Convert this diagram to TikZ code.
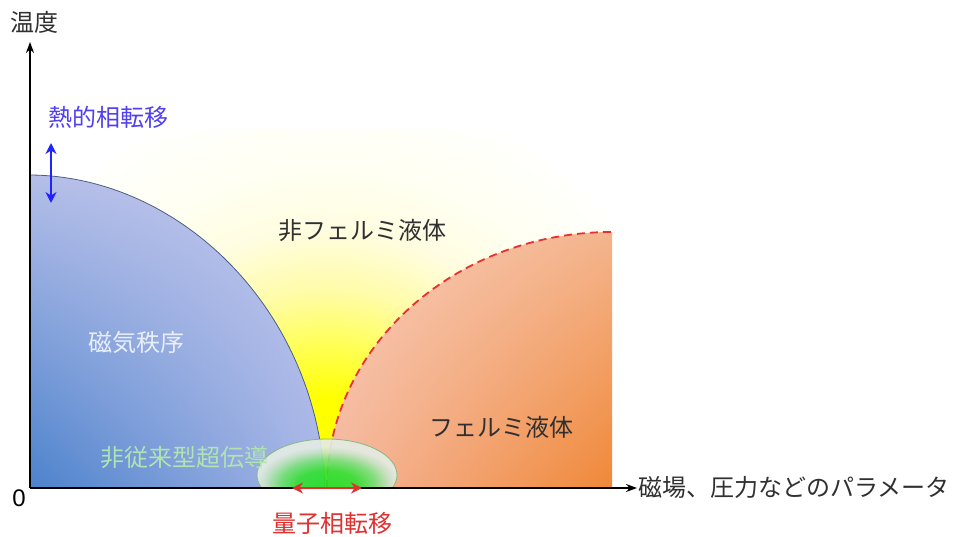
\documentclass[tikz,border=0pt]{standalone}
\usepackage{fontspec}
\newfontfamily\jp{Noto Sans CJK JP}
\newfontfamily\latinsans{Liberation Sans}
\usetikzlibrary{arrows.meta,shadings}
\definecolor{yelA}{HTML}{FFFF00}
\definecolor{yelB}{HTML}{FFFF60}
\definecolor{yelC}{HTML}{FFFCA8}
\definecolor{yelD}{HTML}{FFFDE0}
\definecolor{yelE}{HTML}{FFFFF2}
\definecolor{yelF}{HTML}{FFFFFD}
\definecolor{grnA}{HTML}{22E022}
\definecolor{grnB}{HTML}{34E034}
\definecolor{grnC}{HTML}{78E078}
\definecolor{grnD}{HTML}{C8E4C8}
\definecolor{grnE}{HTML}{E4ECE4}
\definecolor{txtgray}{HTML}{303030}
\definecolor{blueline}{HTML}{4A6088}
\definecolor{arrowblue}{HTML}{2222FF}
\definecolor{lblblue}{HTML}{5040F0}
\definecolor{lblred}{HTML}{E03030}
\definecolor{dashred}{HTML}{E83030}
\definecolor{sclabel}{HTML}{B0E4B0}
\definecolor{maglabel}{HTML}{E8EEFA}
\definecolor{ellline}{HTML}{84B884}
\definecolor{magUL}{HTML}{B4BEE8}
\definecolor{magUR}{HTML}{C6C8EE}
\definecolor{magLL}{HTML}{4C82CC}
\definecolor{magLR}{HTML}{A8B6E6}
\definecolor{flUL}{HTML}{F8CEBE}
\definecolor{flUR}{HTML}{F4B48C}
\definecolor{flLL}{HTML}{F5B89E}
\definecolor{flLR}{HTML}{F08838}
\pgfdeclareradialshading{yelglow}{\pgfpoint{0bp}{0bp}}{color(0bp)=(yelA); color(4.7bp)=(yelA); color(8.7bp)=(yelB); color(11.8bp)=(yelC); color(15.8bp)=(yelD); color(19.7bp)=(yelE); color(25bp)=(yelF); color(50bp)=(yelF)}
\pgfdeclareradialshading{grnglow}{\pgfpoint{0bp}{-10bp}}{color(0bp)=(grnA); color(11bp)=(grnB); color(17bp)=(grnC); color(22bp)=(grnD); color(25bp)=(grnE); color(50bp)=(grnE)}
\begin{document}
\begin{tikzpicture}[x=1pt,y=-1pt,
  lbl/.style={font=\jp\fontsize{24}{28}\selectfont, text=txtgray, inner sep=0pt},
  axisline/.style={line width=1.8pt, black, -{Stealth[length=11pt,width=8pt]}},
  dblarrow/.style={line width=2pt, {Stealth[length=11pt,width=11pt]}-{Stealth[length=11pt,width=11pt]}}]
\useasboundingbox (0,0) rectangle (955,537);
\fill[white] (0,0) rectangle (955,537);
% yellow glow
\begin{scope}
\clip (30,130) rectangle (612,488);
\shade[shading=yelglow] (327,470) circle (380pt);
\end{scope}
% magnetic order region
\shade[upper left=magUL, upper right=magUR, lower left=magLL, lower right=magLR]
  (30,175) .. controls (180,176) and (318,310) .. (325,488) -- (30,488) -- cycle;
\draw[blueline, line width=0.8pt] (30,175) .. controls (180,176) and (318,310) .. (325,488);
% Fermi liquid region
\shade[upper left=flUL, upper right=flUR, lower left=flLL, lower right=flLR]
  (327,488) .. controls (327,347) and (455,232) .. (612,232) -- (612,488) -- cycle;
\draw[dashred, line width=1.8pt, dash pattern=on 8pt off 5pt]
  (327,488) .. controls (327,347) and (455,232) .. (612,232);
% superconducting dome
\begin{scope}
\clip (240,400) rectangle (420,488);
\shade[shading=grnglow, fill opacity=0.92] (327,475) ellipse [x radius=70pt, y radius=36pt];
\draw[ellline, line width=0.8pt] (327,475) ellipse [x radius=70pt, y radius=36pt];
\end{scope}
% axes
\coordinate (O) at (30,488);
\coordinate (ytip) at (30,42);
\coordinate (xtip) at (637,488);
\draw[axisline] (O) -- (ytip);
\draw[axisline] (O) -- (xtip);
% transition arrows
\coordinate (tA) at (51,143);
\coordinate (tB) at (51,203);
\draw[dblarrow, arrowblue] (tA) -- (tB);
\coordinate (qA) at (292,488);
\coordinate (qB) at (362,488);
\draw[dblarrow, lblred] (qA) -- (qB);
% labels
\node[lbl] (temp) at (34,22) {温度};
\node[inner sep=0pt, font=\latinsans\fontsize{24}{28}\selectfont, text=black] (zero) at (19,498) {0};
\node[lbl, text=lblblue] (thermal) at (108,117) {熱的相転移};
\node[lbl] (nfl) at (362,231) {非フェルミ液体};
\node[lbl, text=maglabel] (mag) at (136,342) {磁気秩序};
\node[lbl] (fl) at (501,427) {フェルミ液体};
\node[lbl, text=sclabel] (sc) at (184,457) {非従来型超伝導};
\node[lbl, anchor=west] (param) at (638,487) {磁場、圧力などのパラメータ};
\node[lbl, text=lblred] (qpt) at (332,523) {量子相転移};
\end{tikzpicture}
\end{document}
